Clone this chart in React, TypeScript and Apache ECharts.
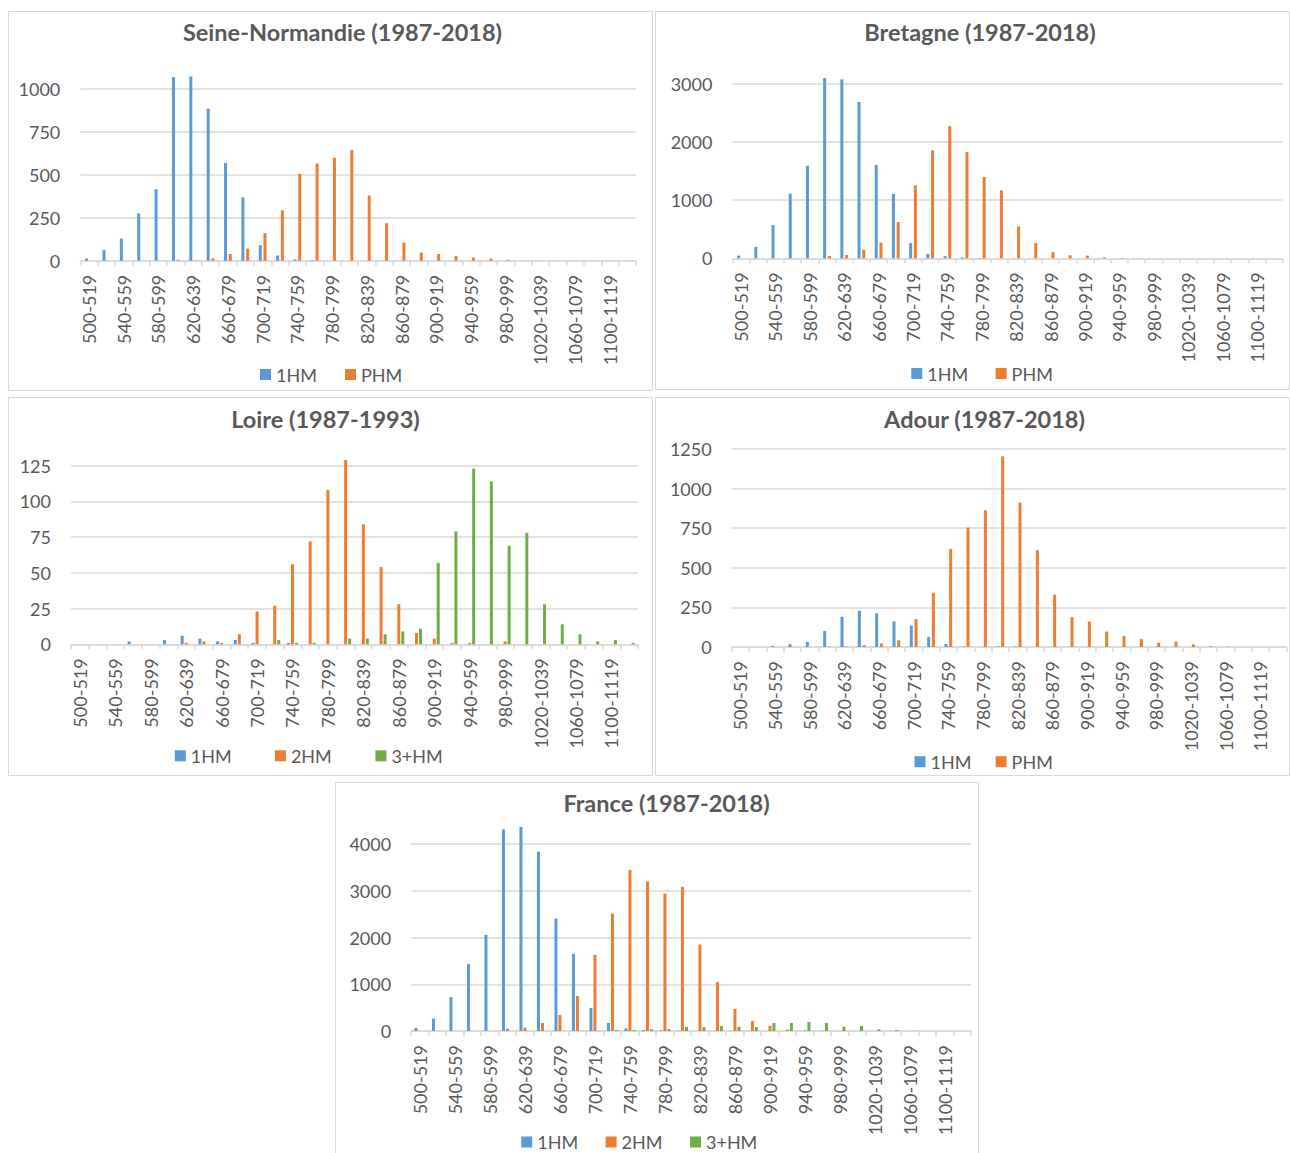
import React, { useEffect, useRef } from "react";
import * as echarts from "echarts";

const CATEGORIES = [
  "500-519", "520-539", "540-559", "560-579", "580-599", "600-619", "620-639", "640-659",
  "660-679", "680-699", "700-719", "720-739", "740-759", "760-779", "780-799", "800-819",
  "820-839", "840-859", "860-879", "880-899", "900-919", "920-939", "940-959", "960-979",
  "980-999", "1000-1019", "1020-1039", "1040-1059", "1060-1079", "1080-1099", "1100-1119", "1120-1139",
];

const SEINE_1HM = [13, 63, 128, 275, 415, 1066, 1070, 883, 568, 368, 90, 30, 8, 3, 0, 0, 0, 0, 0, 0, 0, 0, 0, 0, 0, 0, 0, 0, 0, 0, 0, 0];
const SEINE_PHM = [0, 0, 0, 0, 0, 5, 2, 14, 39, 70, 160, 292, 505, 565, 598, 643, 378, 218, 105, 47, 39, 27, 18, 12, 6, 0, 0, 0, 0, 0, 0, 0];

const BRETAGNE_1HM = [46, 195, 572, 1110, 1591, 3097, 3074, 2685, 1603, 1105, 263, 76, 38, 18, 5, 0, 0, 0, 0, 0, 0, 0, 0, 0, 0, 0, 0, 0, 0, 0, 0, 0];
const BRETAGNE_PHM = [0, 0, 0, 0, 0, 40, 57, 143, 269, 624, 1254, 1855, 2272, 1826, 1397, 1168, 550, 265, 105, 53, 46, 18, 6, 2, 0, 0, 0, 0, 0, 0, 0, 0];

const LOIRE_1HM = [0, 0, 0, 2, 0, 3, 6, 4, 2, 3, 1, 0, 1, 0, 0, 0, 0, 0, 0, 0, 0, 0, 0, 0, 0, 0, 0, 0, 0, 0, 0, 0];
const LOIRE_2HM = [0, 0, 0, 0, 0, 0, 1, 2, 1, 7, 23, 27, 56, 72, 108, 129, 84, 54, 28, 8, 4, 1, 1, 0, 2, 0, 0, 0, 0, 0, 0, 0];
const LOIRE_3HM = [0, 0, 0, 0, 0, 0, 0, 0, 0, 0, 0, 3, 1, 1, 0, 4, 4, 7, 9, 11, 57, 79, 123, 114, 69, 78, 28, 14, 7, 2, 3, 1];

const ADOUR_1HM = [0, 0, 6, 18, 32, 102, 191, 229, 212, 162, 134, 64, 19, 3, 0, 4, 3, 0, 0, 0, 0, 0, 0, 0, 0, 0, 0, 0, 0, 0, 0, 0];
const ADOUR_PHM = [0, 0, 0, 0, 0, 2, 2, 11, 22, 42, 176, 342, 618, 754, 863, 1204, 912, 611, 330, 189, 160, 97, 69, 50, 27, 34, 17, 5, 2, 0, 0, 0];

const FRANCE_1HM = [64, 263, 726, 1430, 2057, 4313, 4363, 3836, 2406, 1651, 495, 171, 57, 21, 14, 5, 0, 0, 0, 0, 0, 0, 0, 0, 0, 0, 0, 0, 0, 0, 0, 0];
const FRANCE_2HM = [0, 0, 0, 0, 0, 50, 71, 171, 342, 750, 1630, 2512, 3445, 3196, 2940, 3082, 1850, 1050, 475, 214, 107, 29, 10, 5, 0, 0, 0, 0, 0, 0, 0, 0];
const FRANCE_3HM = [0, 0, 0, 0, 0, 0, 0, 0, 0, 0, 0, 20, 20, 36, 43, 86, 86, 107, 93, 86, 171, 171, 193, 171, 93, 107, 36, 20, 5, 0, 0, 0];

const TITLES = [
  "Seine-Normandie (1987-2018)",
  "Bretagne (1987-2018)",
  "Loire (1987-1993)",
  "Adour (1987-2018)",
  "France (1987-2018)",
];

const Y_MAX = [1000, 3000, 125, 1250, 4000];
const Y_STEP = [250, 1000, 25, 250, 1000];

const BLUE = "#5B9BD5";
const ORANGE = "#ED7D31";
const GREEN = "#70AD47";
const TEXT = "#595959";
const LINE = "#D9D9D9";
const FONT = "Lato";

const PANELS = [
  {
    title: TITLES[0], titleX: 342.5, titleY: 32,
    box: [8, 11, 644, 379],
    grid: { left: 80.3, top: 88.5, width: 555.7, height: 172.2 },
    series: [
      { name: "1HM", data: SEINE_1HM, color: BLUE, legendX: 260, legendY: 374.5 },
      { name: "PHM", data: SEINE_PHM, color: ORANGE, legendX: 345, legendY: 374.5 },
    ],
  },
  {
    title: TITLES[1], titleX: 980, titleY: 32,
    box: [655, 11, 634, 378],
    grid: { left: 732.4, top: 83.7, width: 550.4, height: 174.6 },
    series: [
      { name: "1HM", data: BRETAGNE_1HM, color: BLUE, legendX: 911.3, legendY: 373.5 },
      { name: "PHM", data: BRETAGNE_PHM, color: ORANGE, legendX: 995.6, legendY: 373.5 },
    ],
  },
  {
    title: TITLES[2], titleX: 325.5, titleY: 419,
    box: [8, 397, 644, 378],
    grid: { left: 71, top: 465.7, width: 567, height: 178.6 },
    series: [
      { name: "1HM", data: LOIRE_1HM, color: BLUE, legendX: 174.8, legendY: 755.8 },
      { name: "2HM", data: LOIRE_2HM, color: ORANGE, legendX: 274.9, legendY: 755.8 },
      { name: "3+HM", data: LOIRE_3HM, color: GREEN, legendX: 375.4, legendY: 755.8 },
    ],
  },
  {
    title: TITLES[3], titleX: 984.5, titleY: 419,
    box: [655, 397, 634, 378],
    grid: { left: 731.7, top: 449, width: 554.6, height: 198 },
    series: [
      { name: "1HM", data: ADOUR_1HM, color: BLUE, legendX: 914.5, legendY: 761.7 },
      { name: "PHM", data: ADOUR_PHM, color: ORANGE, legendX: 995.6, legendY: 761.7 },
    ],
  },
  {
    title: TITLES[4], titleX: 666.5, titleY: 803,
    box: [335, 782, 643, 400],
    grid: { left: 411.2, top: 844, width: 560, height: 187 },
    series: [
      { name: "1HM", data: FRANCE_1HM, color: BLUE, legendX: 521.2, legendY: 1142 },
      { name: "2HM", data: FRANCE_2HM, color: ORANGE, legendX: 605.6, legendY: 1142 },
      { name: "3+HM", data: FRANCE_3HM, color: GREEN, legendX: 690, legendY: 1142 },
    ],
  },
];

function buildOption() {
  const grid: any[] = [];
  const xAxis: any[] = [];
  const yAxis: any[] = [];
  const series: any[] = [];
  const legend: any[] = [];
  const graphic: any[] = [];

  PANELS.forEach((p, i) => {
    graphic.push({
      type: "rect",
      shape: { x: p.box[0] + 0.5, y: p.box[1] + 0.5, width: p.box[2], height: p.box[3] },
      style: { fill: "#FFFFFF", stroke: LINE, lineWidth: 1 },
      z: -10,
      silent: true,
    });
    graphic.push({
      type: "text",
      x: p.titleX,
      y: p.titleY,
      style: {
        text: p.title,
        fill: TEXT,
        font: `bold 23.5px ${FONT}`,
        textAlign: "center",
        textVerticalAlign: "middle",
      },
      silent: true,
    });

    grid.push({ ...p.grid, containLabel: false });
    xAxis.push({
      type: "category",
      gridIndex: i,
      data: CATEGORIES,
      boundaryGap: true,
      axisLine: { show: true, lineStyle: { color: LINE, width: 1.5 } },
      axisTick: { show: true, interval: 0, length: 5, lineStyle: { color: LINE, width: 1.5 } },
      axisLabel: {
        interval: 1,
        rotate: 90,
        margin: 14,
        color: TEXT,
        fontSize: 18,
        fontFamily: FONT,
      },
      splitLine: { show: false },
    });
    yAxis.push({
      type: "value",
      gridIndex: i,
      min: 0,
      max: Y_MAX[i],
      interval: Y_STEP[i],
      axisLine: { show: false },
      axisTick: { show: false },
      axisLabel: {
        color: TEXT,
        fontSize: 18,
        fontFamily: FONT,
        margin: 20,
        formatter: (v: number) => String(v),
      },
      splitLine: { show: true, lineStyle: { color: LINE, width: 1.5 } },
    });

    const gap = p.series.length === 2 ? "57%" : "33%";
    p.series.forEach((s) => {
      series.push({
        type: "bar",
        name: s.name,
        xAxisIndex: i,
        yAxisIndex: i,
        data: s.data,
        barWidth: 3,
        barGap: gap,
        clip: false,
        itemStyle: { color: s.color },
        emphasis: { disabled: true },
      });
      legend.push({
        data: [s.name],
        left: s.legendX,
        top: s.legendY - 9,
        padding: 0,
        itemWidth: 11,
        itemHeight: 11,
        icon: "rect",
        selectedMode: false,
        textStyle: { color: TEXT, fontSize: 18, fontFamily: FONT, lineHeight: 18 },
      });
    });
  });

  return {
    animation: false,
    backgroundColor: "#FFFFFF",
    textStyle: { fontFamily: FONT },
    grid,
    xAxis,
    yAxis,
    series,
    legend,
    graphic,
  };
}

export default function App() {
  const ref = useRef<HTMLDivElement>(null);
  useEffect(() => {
    if (!ref.current) return;
    const chart = echarts.init(ref.current, undefined, { renderer: "svg" });
    chart.setOption(buildOption());
    return () => chart.dispose();
  }, []);
  return (
    <div
      ref={ref}
      style={{ position: "absolute", left: 0, top: 0, width: 1290, height: 1153, background: "#FFFFFF" }}
    />
  );
}
